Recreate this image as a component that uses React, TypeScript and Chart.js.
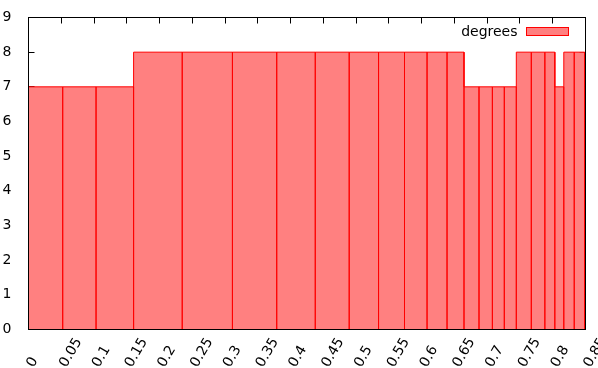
import React, { useEffect, useRef } from "react";
import { Chart, registerables } from "chart.js";

Chart.register(...registerables);

// Bin edges (x) of the variable-width histogram and the bar heights
const binEdges = [
  0, 0.0522, 0.1031, 0.1604, 0.2346, 0.3112, 0.3788, 0.4376, 0.4894, 0.5342,
  0.5738, 0.6082, 0.6387, 0.6646, 0.6875, 0.7079, 0.7261, 0.7444, 0.7673,
  0.788, 0.8032, 0.8169, 0.8328, 0.8489,
];
const degreeCounts = [7, 7, 7, 8, 8, 8, 8, 8, 8, 8, 8, 8, 8, 7, 7, 7, 7, 8, 8, 8, 7, 8, 8];

const xTickValues = [0, 0.05, 0.1, 0.15, 0.2, 0.25, 0.3, 0.35, 0.4, 0.45, 0.5, 0.55, 0.6, 0.65, 0.7, 0.75, 0.8, 0.85];
const xTickLabels = ["0", "0.05", "0.1", "0.15", "0.2", "0.25", "0.3", "0.35", "0.4", "0.45", "0.5", "0.55", "0.6", "0.65", "0.7", "0.75", "0.8", "0.85"];
const yTickValues = [0, 1, 2, 3, 4, 5, 6, 7, 8, 9];
const seriesName = "degrees";

const FONT_FAMILY = '"DejaVu Sans", sans-serif';
const FONT_SIZE = 14;
const FILL = "#ff8080";
const LINE = "#ff0000";

function buildOutline() {
  const pts: { x: number; y: number }[] = [];
  degreeCounts.forEach((h, i) => {
    const a = binEdges[i];
    const b = binEdges[i + 1];
    pts.push({ x: a, y: 0 }, { x: a, y: h }, { x: b, y: h }, { x: b, y: 0 });
  });
  return pts;
}

const frameAndTicks = {
  id: "frameAndTicks",
  beforeDatasetsDraw(chart: any) {
    const { ctx, chartArea: a, scales } = chart;
    const tl = 6;
    ctx.save();
    ctx.strokeStyle = "#000";
    ctx.lineWidth = 1;
    ctx.beginPath();
    xTickValues.forEach((v) => {
      const px = Math.round(scales.x.getPixelForValue(v) - 0.5) + 0.5;
      ctx.moveTo(px, a.top);
      ctx.lineTo(px, a.top + tl);
      ctx.moveTo(px, a.bottom);
      ctx.lineTo(px, a.bottom - tl);
    });
    yTickValues.forEach((v) => {
      const py = Math.round(scales.y.getPixelForValue(v) - 0.5) + 0.5;
      ctx.moveTo(a.left, py);
      ctx.lineTo(a.left + tl, py);
      ctx.moveTo(a.right, py);
      ctx.lineTo(a.right - tl, py);
    });
    ctx.stroke();
    ctx.restore();
  },
  afterDatasetsDraw(chart: any) {
    const { ctx, chartArea: a } = chart;
    ctx.save();
    ctx.strokeStyle = "#000";
    ctx.lineWidth = 1;
    ctx.strokeRect(a.left, a.top, a.right - a.left, a.bottom - a.top);
    ctx.restore();
  },
  afterDraw(chart: any) {
    const { ctx, scales } = chart;
    ctx.save();
    ctx.fillStyle = "#000";
    ctx.font = `${FONT_SIZE}px ${FONT_FAMILY}`;
    // rotated x tick labels (gnuplot style: start near the tick, reading upward)
    xTickValues.forEach((v, i) => {
      const px = scales.x.getPixelForValue(v);
      ctx.save();
      ctx.translate(px + 5, 368);
      ctx.rotate(-Math.PI / 3);
      ctx.textAlign = "left";
      ctx.textBaseline = "alphabetic";
      ctx.fillText(xTickLabels[i], 0, 0);
      ctx.restore();
    });
    // legend (text then sample box, top right inside the plot)
    const ds = chart.data.datasets[0];
    ctx.textAlign = "right";
    ctx.textBaseline = "middle";
    ctx.fillText(ds.label, 517.5, 32);
    ctx.fillStyle = ds.backgroundColor;
    ctx.fillRect(526.5, 27.5, 42, 8);
    ctx.strokeStyle = ds.borderColor;
    ctx.lineWidth = 1;
    ctx.strokeRect(526.5, 27.5, 42, 8);
    ctx.restore();
  },
};

export default function App() {
  const ref = useRef<HTMLCanvasElement | null>(null);

  useEffect(() => {
    if (!ref.current) return;
    const chart = new Chart(ref.current, {
      type: "line",
      data: {
        datasets: [
          {
            label: seriesName,
            data: buildOutline(),
            backgroundColor: FILL,
            borderColor: LINE,
            borderWidth: 1,
            fill: "origin",
            pointRadius: 0,
            tension: 0,
          },
        ],
      },
      options: {
        animation: false,
        responsive: false,
        devicePixelRatio: 1,
        layout: { padding: { top: 17.5, right: 12.5, left: 0, bottom: 0 } },
        plugins: { legend: { display: false }, tooltip: { enabled: false } },
        scales: {
          x: {
            type: "linear",
            min: 0,
            max: 0.85,
            afterBuildTicks: (s: any) => {
              s.ticks = xTickValues.map((v) => ({ value: v }));
            },
            afterFit: (s: any) => {
              s.height = 38.5;
              s.paddingLeft = 0;
              s.paddingRight = 0;
            },
            ticks: { display: false },
            grid: { display: false },
            border: { display: false },
          },
          y: {
            type: "linear",
            min: 0,
            max: 9,
            afterBuildTicks: (s: any) => {
              s.ticks = yTickValues.map((v) => ({ value: v }));
            },
            afterFit: (s: any) => {
              s.width = 28.5;
              s.paddingTop = 0;
              s.paddingBottom = 0;
            },
            ticks: {
              padding: 9,
              color: "#000",
              font: { family: FONT_FAMILY, size: FONT_SIZE },
            },
            grid: { display: false },
            border: { display: false },
          },
        },
      },
      plugins: [frameAndTicks],
    });
    return () => chart.destroy();
  }, []);

  return (
    <div style={{ position: "fixed", left: 0, top: 0, width: 598, height: 368, background: "#fff" }}>
      <canvas ref={ref} width={598} height={368} />
    </div>
  );
}
